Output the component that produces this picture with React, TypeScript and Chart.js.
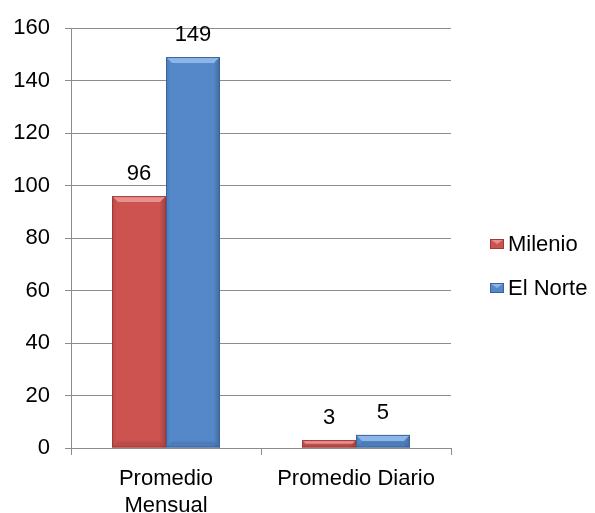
import React, { useEffect, useRef } from 'react';
import { Chart, registerables } from 'chart.js';

Chart.register(...registerables);

const categories: (string | string[])[] = [['Promedio', 'Mensual'], 'Promedio Diario'];
const seriesNames = ['Milenio', 'El Norte'];
const milenioValues = [96, 3];
const elNorteValues = [149, 5];
const yMin = 0;
const yMax = 160;
const yStep = 20;

const FONT = "'Liberation Sans', Arial, Helvetica, sans-serif";
const FONT_SIZE = 22;
const fills = ['#CC5350', '#5488C9'];
const borders = ['#9E3A37', '#3C6397'];
const lights = ['#E8908D', '#8DB6E8'];
const gridColor = '#8C8C8C';

const bevelPlugin = {
  id: 'bevel',
  afterDatasetsDraw(chart: any) {
    const ctx = chart.ctx;
    chart.data.datasets.forEach((ds: any, di: number) => {
      const meta = chart.getDatasetMeta(di);
      meta.data.forEach((bar: any) => {
        const { x, y, base, width } = bar.getProps(['x', 'y', 'base', 'width'], true);
        const l = x - width / 2;
        const r = x + width / 2;
        const h = base - y;
        const b = Math.min(6, h / 2, width / 4);
        ctx.save();
        const g = ctx.createLinearGradient(l, 0, r, 0);
        g.addColorStop(0, 'rgba(0,0,0,0.10)');
        g.addColorStop(0.08, 'rgba(0,0,0,0)');
        g.addColorStop(0.88, 'rgba(0,0,0,0)');
        g.addColorStop(1, 'rgba(0,0,0,0.22)');
        ctx.fillStyle = g;
        ctx.fillRect(l, y, width, h);
        ctx.fillStyle = lights[di];
        ctx.beginPath();
        ctx.moveTo(l, y);
        ctx.lineTo(r, y);
        ctx.lineTo(r - b, y + b);
        ctx.lineTo(l + b, y + b);
        ctx.closePath();
        ctx.fill();
        ctx.fillStyle = 'rgba(0,0,0,0.08)';
        ctx.beginPath();
        ctx.moveTo(l, base);
        ctx.lineTo(r, base);
        ctx.lineTo(r - b, base - b);
        ctx.lineTo(l + b, base - b);
        ctx.closePath();
        ctx.fill();
        ctx.strokeStyle = borders[di];
        ctx.lineWidth = 1;
        ctx.strokeRect(l + 0.5, y + 0.5, width - 1, h - 1);
        ctx.restore();
      });
    });
  },
};

const valueLabelPlugin = {
  id: 'valueLabels',
  afterDatasetsDraw(chart: any) {
    const ctx = chart.ctx;
    ctx.save();
    ctx.font = `${FONT_SIZE}px ${FONT}`;
    ctx.fillStyle = '#000000';
    ctx.textAlign = 'center';
    ctx.textBaseline = 'alphabetic';
    chart.data.datasets.forEach((ds: any, di: number) => {
      const meta = chart.getDatasetMeta(di);
      meta.data.forEach((bar: any, i: number) => {
        ctx.fillText(String(ds.data[i]), bar.x, bar.y - 16);
      });
    });
    ctx.restore();
  },
};

const customLegendPlugin = {
  id: 'customLegend',
  afterDraw(chart: any) {
    const ctx = chart.ctx;
    const boxX = 490;
    const boxW = 14;
    const boxH = 10;
    const startY = 244;
    const gap = 44;
    ctx.save();
    ctx.font = `${FONT_SIZE}px ${FONT}`;
    ctx.textBaseline = 'middle';
    ctx.textAlign = 'left';
    chart.data.datasets.forEach((ds: any, di: number) => {
      const cy = startY + di * gap;
      const top = cy - boxH / 2;
      ctx.fillStyle = fills[di];
      ctx.fillRect(boxX, top, boxW, boxH);
      ctx.fillStyle = lights[di];
      ctx.beginPath();
      ctx.moveTo(boxX, top);
      ctx.lineTo(boxX + boxW, top);
      ctx.lineTo(boxX + boxW / 2, cy);
      ctx.closePath();
      ctx.fill();
      ctx.strokeStyle = borders[di];
      ctx.lineWidth = 1;
      ctx.strokeRect(boxX + 0.5, top + 0.5, boxW - 1, boxH - 1);
      ctx.fillStyle = '#000000';
      ctx.fillText(ds.label, boxX + boxW + 4, cy + 1);
    });
    ctx.restore();
  },
};

export default function App() {
  const canvasRef = useRef<HTMLCanvasElement | null>(null);

  useEffect(() => {
    if (!canvasRef.current) return;
    const chart = new Chart(canvasRef.current, {
      type: 'bar',
      data: {
        labels: categories,
        datasets: [
          {
            label: seriesNames[0],
            data: milenioValues,
            backgroundColor: fills[0],
            borderWidth: 0,
            categoryPercentage: 0.568,
            barPercentage: 1,
          },
          {
            label: seriesNames[1],
            data: elNorteValues,
            backgroundColor: fills[1],
            borderWidth: 0,
            categoryPercentage: 0.568,
            barPercentage: 1,
          },
        ],
      },
      options: {
        responsive: false,
        animation: false,
        devicePixelRatio: 1,
        layout: { padding: { top: 25, right: 144, bottom: 0, left: 0 } },
        plugins: {
          legend: { display: false },
          tooltip: { enabled: false },
        },
        scales: {
          x: {
            offset: true,
            grid: {
              offset: true,
              drawOnChartArea: false,
              drawTicks: true,
              tickLength: 7,
              color: gridColor,
            },
            border: { display: true, color: gridColor },
            ticks: {
              color: '#000000',
              padding: 10,
              maxRotation: 0,
              autoSkip: false,
              font: { family: FONT, size: FONT_SIZE, lineHeight: 27 / 22 },
            },
            afterFit: (scale: any) => {
              scale.height = 65;
            },
          },
          y: {
            min: yMin,
            max: yMax,
            ticks: {
              stepSize: yStep,
              color: '#000000',
              padding: 15,
              font: { family: FONT, size: FONT_SIZE },
            },
            grid: {
              color: gridColor,
              tickLength: 6,
              drawTicks: true,
            },
            border: { display: true, color: gridColor },
            afterFit: (scale: any) => {
              scale.width = 71;
            },
          },
        },
      },
      plugins: [bevelPlugin, valueLabelPlugin, customLegendPlugin],
    });
    return () => chart.destroy();
  }, []);

  return (
    <div style={{ position: 'fixed', left: 0, top: 0, width: 595, height: 513, background: '#ffffff' }}>
      <canvas ref={canvasRef} width={595} height={513} style={{ display: 'block', width: 595, height: 513 }} />
    </div>
  );
}
